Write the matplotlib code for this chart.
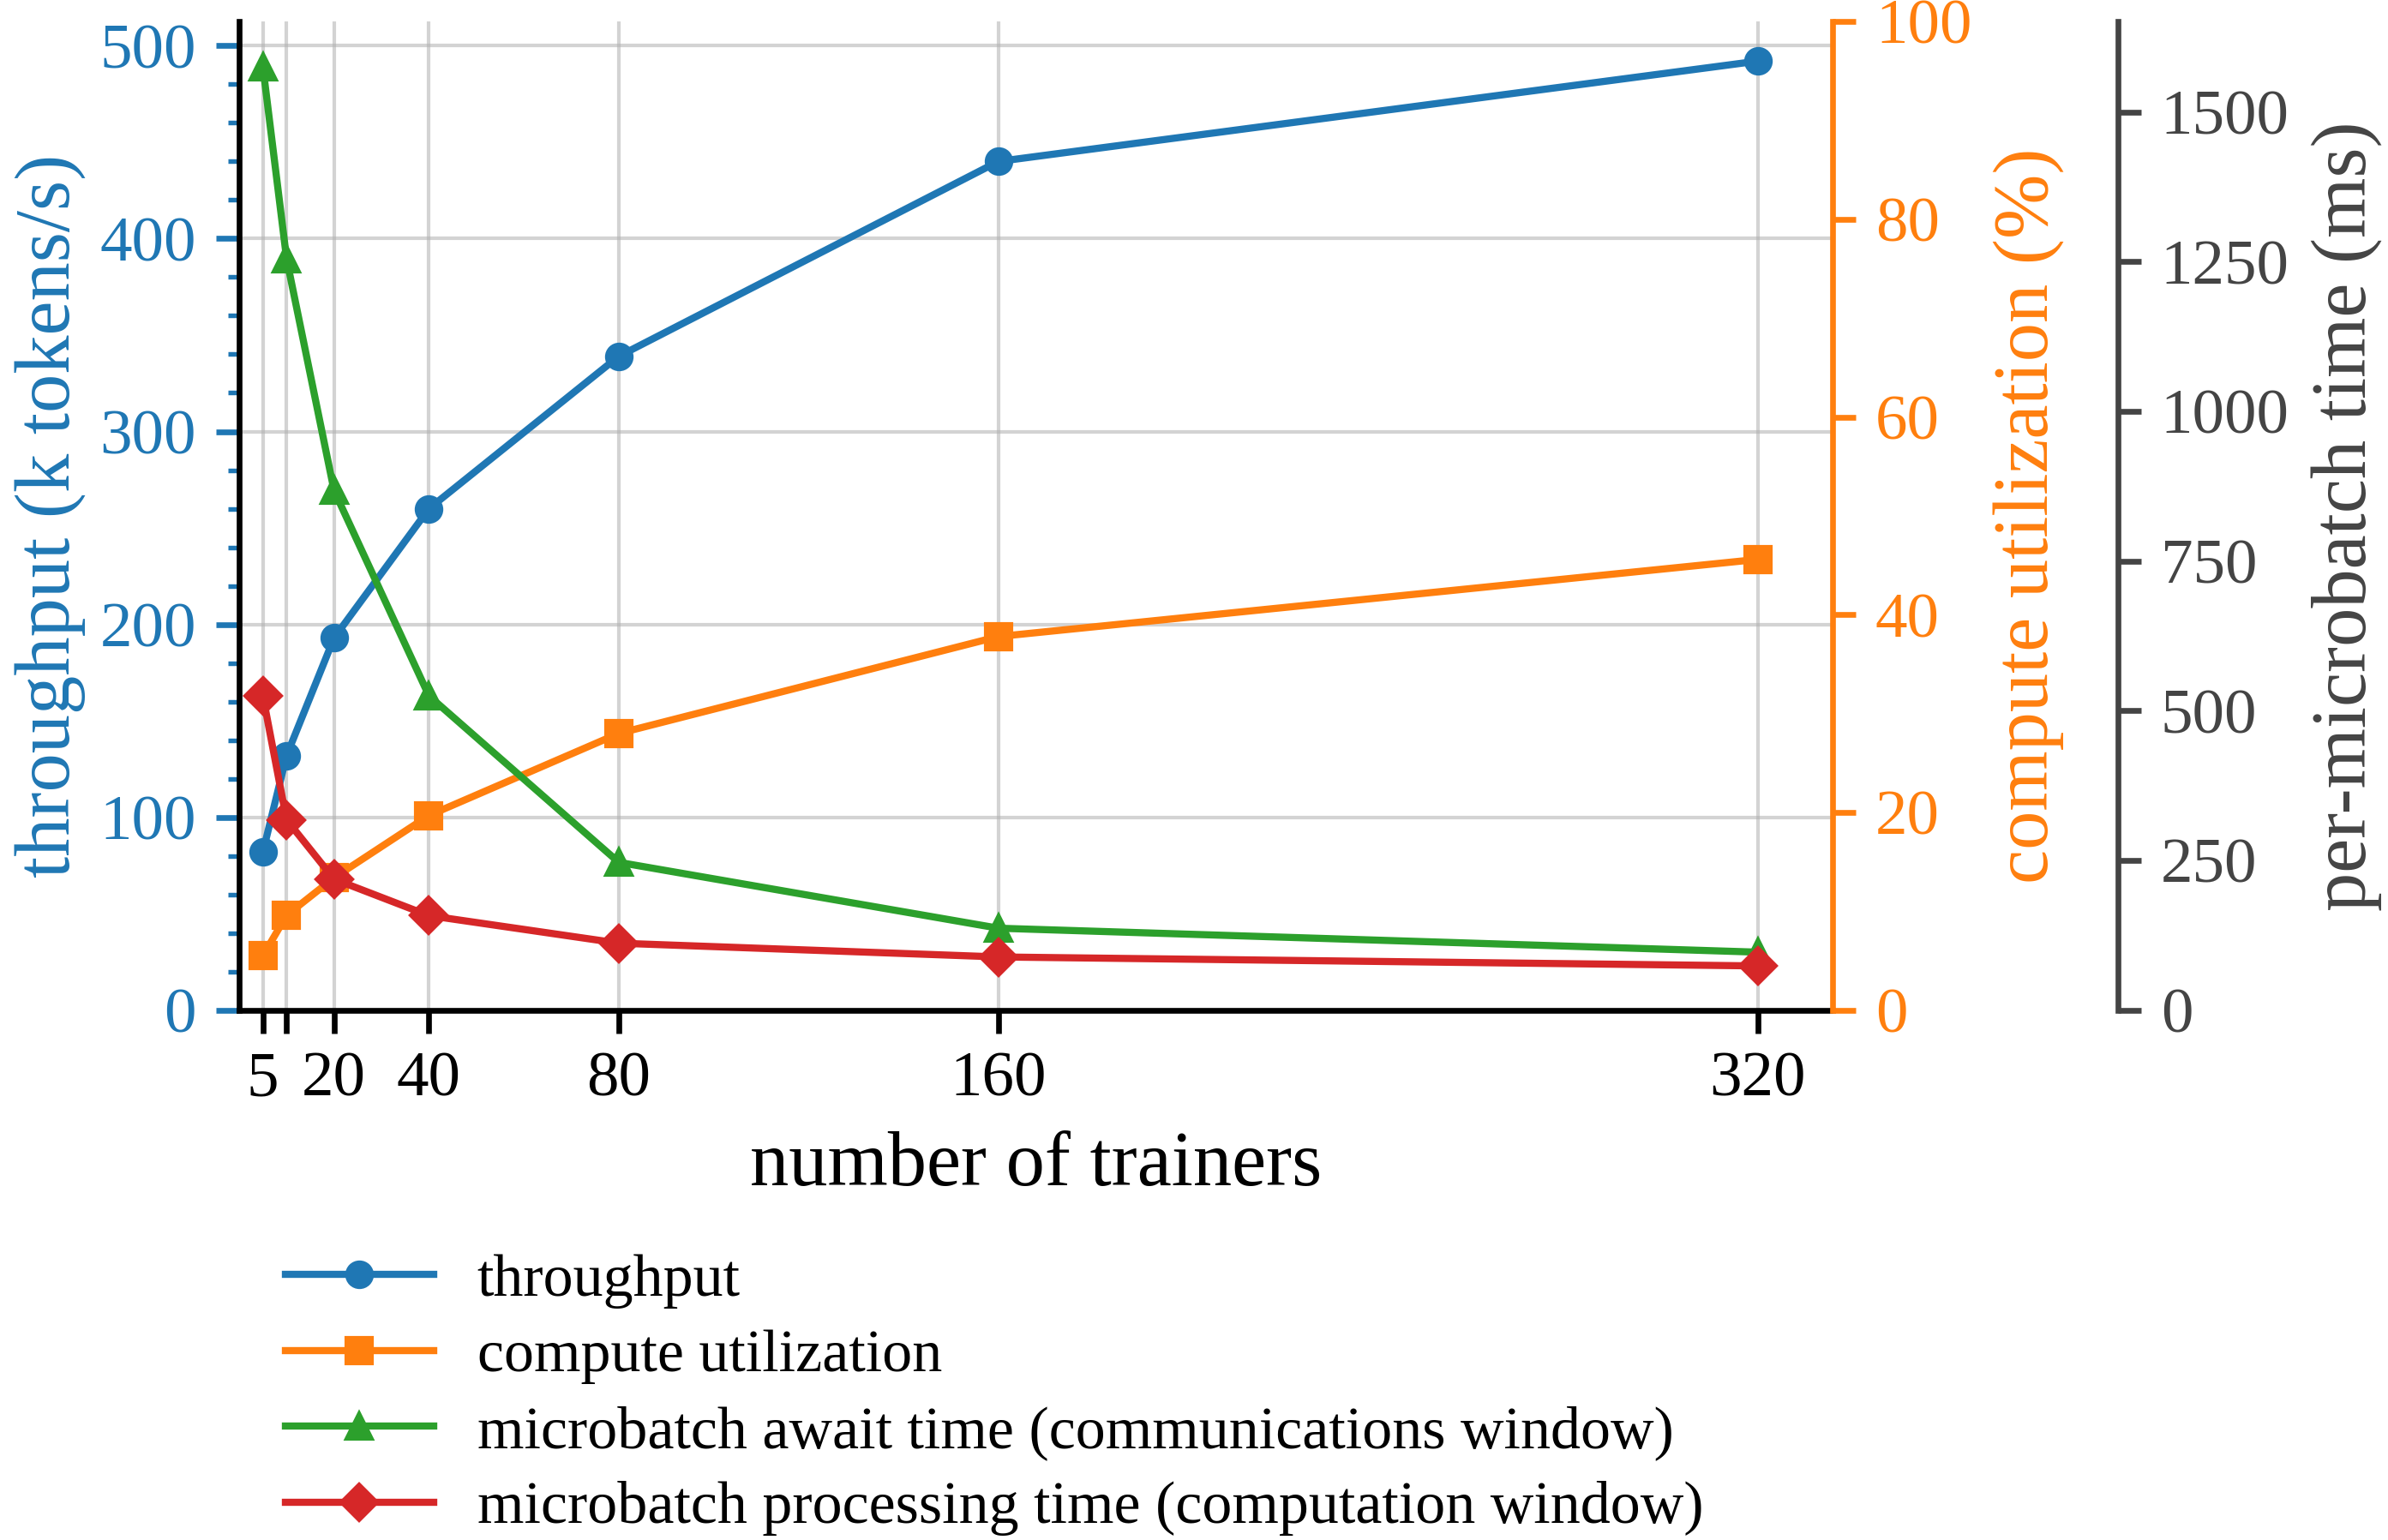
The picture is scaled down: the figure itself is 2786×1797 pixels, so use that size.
import matplotlib
matplotlib.use("Agg")
import matplotlib.pyplot as plt
from matplotlib.ticker import MultipleLocator

plt.rcParams["font.family"] = ["Liberation Serif", "DejaVu Serif"]
plt.rcParams["mathtext.fontset"] = "stix"

# data
trainers = [5, 10, 20, 40, 80, 160, 320]
tick_labels = ["5", "", "20", "40", "80", "160", "320"]
throughput = [82, 132, 193, 260, 339, 440, 492]          # k tokens/s
utilization = [5.5, 9.6, 13.4, 19.7, 28.0, 37.8, 45.6]   # %
await_ms = [1576, 1255, 868, 525, 247, 137, 97]          # ms
process_ms = [525, 318, 219, 158, 112, 89, 74]           # ms

c_blue, c_orange, c_green, c_red = "#1f77b4", "#ff7f0e", "#2ca02c", "#d62728"
c_gray = "#444444"
fs = 18      # tick labels
fs_lab = 21.7
fs_leg = 16.8

fig = plt.figure(figsize=(2787 / 300, 1797 / 300), dpi=300)
ax = fig.add_axes([0.1001, 0.344, 0.667, 0.642])
ax2 = ax.twinx()
ax3 = ax.twinx()

kw = dict(linewidth=2.0, markersize=7)
l1, = ax.plot(trainers, throughput, "-o", color=c_blue, label="throughput", **kw)
l2, = ax2.plot(trainers, utilization, "-s", color=c_orange, label="compute utilization", **kw)
l3, = ax3.plot(trainers, await_ms, "-^", color=c_green,
               label="microbatch await time (communications window)", **kw)
l4, = ax3.plot(trainers, process_ms, "-D", color=c_red,
               label="microbatch processing time (computation window)", **kw)

ax.set_xlim(0, 335.75)
ax.set_ylim(0, 512.5)
ax2.set_ylim(0, 100)
ax3.set_ylim(0, 1651)

ax.set_xticks(trainers)
ax.set_xticklabels(tick_labels)
ax.yaxis.set_major_locator(MultipleLocator(100))
ax.yaxis.set_minor_locator(MultipleLocator(20))
ax2.yaxis.set_major_locator(MultipleLocator(20))
ax3.yaxis.set_major_locator(MultipleLocator(250))

ax.grid(True, which="major", color="#b0b0b0", alpha=0.55, linewidth=1.0)
ax.set_axisbelow(True)

for a in (ax, ax2, ax3):
    a.spines["top"].set_visible(False)
ax.spines["right"].set_visible(False)
ax2.spines["left"].set_visible(False)
ax2.spines["bottom"].set_visible(False)
ax3.spines["left"].set_visible(False)
ax3.spines["bottom"].set_visible(False)
for s in ("left", "bottom"):
    ax.spines[s].set_linewidth(1.6)
    ax.spines[s].set_color("black")
ax2.spines["right"].set_color(c_orange)
ax2.spines["right"].set_linewidth(1.6)
ax3.spines["right"].set_position(("axes", 1.179))
ax3.spines["right"].set_color(c_gray)
ax3.spines["right"].set_linewidth(1.6)

ax.tick_params(axis="x", which="major", length=6.5, width=1.6, pad=5, labelsize=fs, colors="black")
ax.tick_params(axis="y", which="major", length=6.5, width=1.6, pad=5.5, labelsize=fs, colors=c_blue)
ax.tick_params(axis="y", which="minor", length=3.2, width=1.3, colors=c_blue)
ax2.tick_params(axis="y", length=6.5, width=1.6, pad=5.5, labelsize=fs, colors=c_orange)
ax3.tick_params(axis="y", length=6.5, width=1.6, pad=5.5, labelsize=fs, colors=c_gray)

ax.set_xlabel("number of trainers", fontsize=fs_lab, labelpad=6)
ax.set_ylabel("throughput (k tokens/s)", fontsize=fs_lab, color=c_blue, labelpad=4)
ax2.set_ylabel("compute utilization (%)", fontsize=fs_lab, color=c_orange, labelpad=6)
ax3.set_ylabel("per-microbatch time (ms)", fontsize=fs_lab, color=c_gray, labelpad=6)

fig.legend([l1, l2, l3, l4], [l.get_label() for l in (l1, l2, l3, l4)],
           loc="upper left", bbox_to_anchor=(0.097, 0.221), frameon=False,
           fontsize=fs_leg, handlelength=2.46, handletextpad=0.73, labelspacing=0.35)

fig.savefig("out.png", dpi=300, facecolor="white")
print("ok")
